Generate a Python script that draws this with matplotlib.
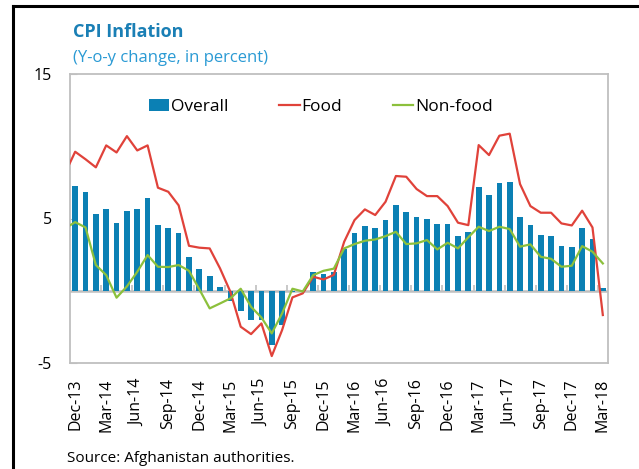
import matplotlib.pyplot as plt
import numpy as np
import pandas as pd
from matplotlib.lines import Line2D

plt.rcParams['font.family'] = ['Open Sans', 'DejaVu Sans']
plt.rcParams['axes.unicode_minus'] = False

# monthly, Dec-13 .. Mar-18
months = pd.date_range('2013-12-01', periods=52, freq='MS').strftime('%b-%y').tolist()

overall = [7.27, 6.83, 5.28, 5.68, 4.71, 5.54, 5.68, 6.42, 4.52, 4.31, 3.97, 2.31,
           1.48, 1.02, 0.28, -0.7, -1.38, -2.03, -2.05, -3.73, -2.4, -0.1, 0.05,
           1.27, 1.15, 1.27, 2.9, 4.02, 4.5, 4.37, 4.89, 5.96, 5.43, 5.1, 4.94,
           4.59, 4.59, 3.78, 4.06, 7.17, 6.64, 7.47, 7.51, 5.13, 4.54, 3.83, 3.77,
           3.08, 3.05, 4.31, 3.58, 0.17]

# lines start one month earlier (Nov-13), clipped at the left edge
food = [8.1, 9.62, 9.1, 8.54, 10.06, 9.57, 10.7, 9.71, 10.06, 7.13, 6.85, 5.91, 3.11,
        2.98, 2.93, 1.55, -0.07, -2.49, -3.0, -2.26, -4.52, -2.72, -0.46, -0.18,
        0.97, 0.78, 1.1, 3.39, 4.89, 5.63, 5.24, 6.16, 7.94, 7.89, 7.04, 6.55,
        6.55, 5.86, 4.71, 4.54, 10.08, 9.39, 10.73, 10.87, 7.38, 5.86, 5.4, 5.4,
        4.66, 4.52, 5.54, 4.38, -1.68]

non_food = [4.3, 4.75, 4.38, 1.78, 1.08, -0.48, 0.3, 1.31, 2.47, 1.66, 1.64, 1.78, 1.38,
            0.1, -1.22, -0.88, -0.53, 0.14, -1.11, -1.85, -2.95, -1.57, 0.14, -0.05,
            1.08, 1.38, 1.53, 2.93, 3.23, 3.46, 3.55, 3.78, 4.08, 3.23, 3.28, 3.51,
            2.86, 3.32, 2.93, 3.7, 4.43, 4.13, 4.43, 4.27, 3.05, 3.21, 2.35, 2.21,
            1.66, 1.73, 3.09, 2.7, 1.89]

blue = '#0b80b4'
red = '#e0423a'
green = '#8cc03c'
grey = '#bfbfbf'

fig = plt.figure(figsize=(6.39, 4.69), dpi=100)
ax = fig.add_axes([70 / 639, 106 / 469, 538 / 639, 289 / 469])

x = np.arange(len(months))
x_lines = np.arange(-1, len(months))

ax.axhline(0, color=grey, lw=1.8, zorder=1)
bars = ax.bar(x, overall, width=0.55, color=blue, zorder=2, label='Overall')
l_food, = ax.plot(x_lines, food, color=red, lw=1.6, zorder=3, label='Food')
l_nonfood, = ax.plot(x_lines, non_food, color=green, lw=1.6, zorder=3, label='Non-food')

# small quarter tick marks sitting on the zero line
ax.vlines(x[3::3] - 0.5, 0, 0.4, color=grey, lw=1.2, zorder=1)

ax.set_xlim(-0.5, len(months) - 0.5)
ax.set_ylim(-5, 15)
ax.set_yticks([-5, 5, 15])
ax.set_xticks(x[::3])
ax.set_xticklabels(months[::3], rotation=90)
ax.tick_params(axis='x', length=0, pad=11, labelsize=11.5)
ax.tick_params(axis='y', direction='in', length=5, color=grey, pad=13, labelsize=11.5)
for s in ax.spines.values():
    s.set_color(grey)
    s.set_linewidth(1.3)

ax.legend([bars, l_food, l_nonfood], ['Overall', 'Food', 'Non-food'],
          loc='center', bbox_to_anchor=(0.466, 0.886), ncol=3, frameon=False,
          fontsize=12.5, handlelength=1.2, handletextpad=0.1, columnspacing=2.9,
          handleheight=0.7)

fig.text(73 / 639, 1 - 32 / 469, 'CPI Inflation', fontsize=13, fontweight='bold',
         color='#1a7fb5', va='center')
fig.text(73 / 639, 1 - 58 / 469, '(Y-o-y change, in percent)', fontsize=12,
         color='#2a9ad4', va='center')
fig.text(67 / 639, 1 - 458 / 469, 'Source: Afghanistan authorities.', fontsize=11,
         va='center')

# black frame on the left and top of the figure
fig.add_artist(Line2D([13 / 639, 13 / 639], [0, 1 - 6 / 469], color='black', lw=2.2))
fig.add_artist(Line2D([13 / 639, 1], [1 - 6 / 469, 1 - 6 / 469], color='black', lw=2.2))

fig.savefig('out.png', dpi=100)
